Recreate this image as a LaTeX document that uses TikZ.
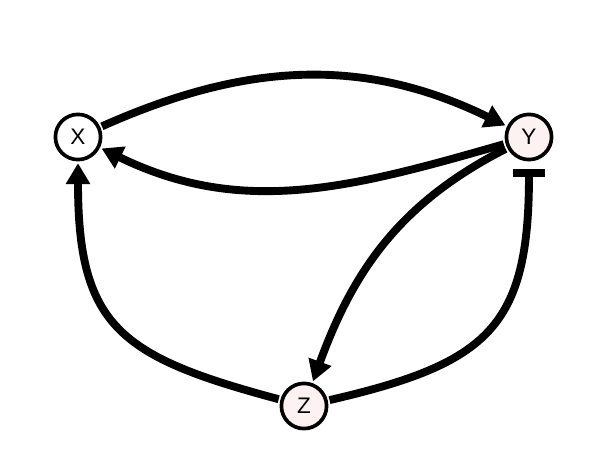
\documentclass[tikz,border=0pt]{standalone}
\usepackage{fontspec}
\setmainfont{Liberation Sans}
\usepackage{tikz}
\usetikzlibrary{positioning,calc}
\usetikzlibrary{arrows.meta}
\definecolor{NodePink}{RGB}{253,242,242}
\tikzset{
  var/.style={circle,draw=black,fill=white,line width=2.6pt,minimum size=1.13cm,inner sep=0pt,outer sep=0.09cm,font=\fontsize{16}{19}\selectfont},
  act/.style={draw=black,line width=5.6pt,-{Triangle[length=0.52cm,width=0.58cm]}},
  inh/.style={draw=black,line width=5.6pt,-{Bar[width=0.8cm]},shorten >=0.15cm},
}

\begin{document}
\begin{tikzpicture}[x=0.025cm,y=0.025cm]
\useasboundingbox (0,0) rectangle (608,474);
\node[var] (X) at (78,337) {X};
\node[var,fill=NodePink] (Y) at (529,337) {Y};
\node[var,fill=NodePink] (Z) at (304,68) {Z};
\draw[act] (X) to[out=24,in=154] (Y);
\draw[act] (Y) to[out=196,in=-26] (X);
\draw[act] (Y) to[out=207,in=70] (Z);
\draw[act] (Z) to[out=165,in=-90,looseness=1.35] (X);
\draw[inh] (Z) to[out=13,in=-90,looseness=1.35] (Y);
\end{tikzpicture}
\end{document}
